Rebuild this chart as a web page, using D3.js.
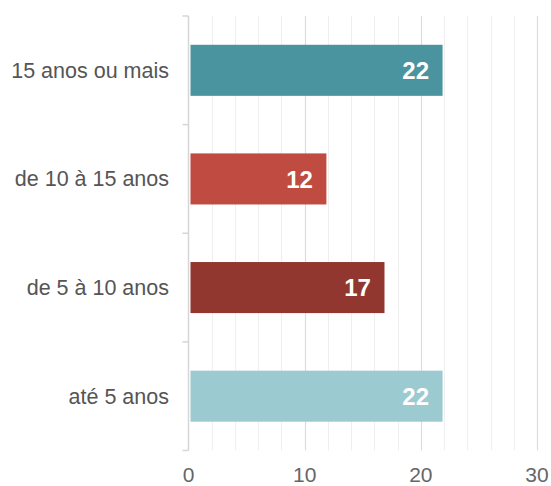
<!DOCTYPE html>
<html><head><meta charset="utf-8">
<script src="https://cdn.jsdelivr.net/npm/d3@7"></script>
<style>body{margin:0;background:#fff}svg{display:block;font-family:"Liberation Sans",Arial,sans-serif}</style>
</head><body><svg id="c" width="551" height="486"></svg>
<script>
const categories = ["15 anos ou mais","de 10 à 15 anos","de 5 à 10 anos","até 5 anos"];
const values = [22,12,17,22];
const colors = ["#4a949f","#c04b41","#923730","#9ccad1"];
const tickValues = [0,10,20,30];

(function(){
const svg = d3.select("#c");
const pl = 188.5, pr = 537, pt = 16, pb = 450.5;
const x = d3.scaleLinear().domain([0,30]).range([pl,pr]);
const y = d3.scaleBand().domain(categories).range([pt,pb]).paddingInner(0.53).paddingOuter(0.265);
const step = y.step();

// minor gridlines
svg.append("g").selectAll("line").data(d3.range(2,30,2).filter(v=>v%10!==0)).join("line")
  .attr("x1",d=>Math.round(x(d))+0.5).attr("x2",d=>Math.round(x(d))+0.5)
  .attr("y1",pt).attr("y2",pb).attr("stroke","#efefef").attr("stroke-width",1);
// major gridlines
svg.append("g").selectAll("line").data(tickValues.filter(v=>v>0)).join("line")
  .attr("x1",d=>Math.round(x(d))+0.5).attr("x2",d=>Math.round(x(d))+0.5)
  .attr("y1",pt).attr("y2",pb).attr("stroke","#dcdcdc").attr("stroke-width",1.2);

// y axis line + ticks at band boundaries
const bounds = categories.map(c=>y(c)-y.paddingInner()*step/2).concat([pb]);
svg.append("line").attr("x1",x(0)).attr("x2",x(0)).attr("y1",pt).attr("y2",pb)
  .attr("stroke","#d6d6d6").attr("stroke-width",1.5);
svg.append("g").selectAll("line").data(bounds).join("line")
  .attr("x1",x(0)-6).attr("x2",x(0)).attr("y1",d=>d).attr("y2",d=>d)
  .attr("stroke","#d6d6d6").attr("stroke-width",1.5);

// bars
svg.append("g").selectAll("rect").data(values).join("rect")
  .attr("x",x(0)+2).attr("y",(d,i)=>y(categories[i]))
  .attr("width",d=>x(d)-x(0)-3.5).attr("height",y.bandwidth())
  .attr("fill",(d,i)=>colors[i]);

// value labels
svg.append("g").selectAll("text").data(values).join("text")
  .attr("x",d=>x(d)-15).attr("y",(d,i)=>y(categories[i])+y.bandwidth()/2)
  .attr("dy","0.36em").attr("text-anchor","end").attr("fill","#fff")
  .attr("font-weight","bold").attr("font-size",24).text(d=>d);

// category labels
svg.append("g").selectAll("text").data(categories).join("text")
  .attr("x",x(0)-19.5).attr("y",d=>y(d)+y.bandwidth()/2)
  .attr("dy","0.35em").attr("text-anchor","end").attr("fill","#555")
  .attr("font-size",21.5).text(d=>d);

// x tick labels
svg.append("g").selectAll("text").data(tickValues).join("text")
  .attr("x",d=>x(d)).attr("y",482).attr("text-anchor","middle").attr("fill","#666")
  .attr("font-size",21).text(d=>d);
})();
</script></body></html>
